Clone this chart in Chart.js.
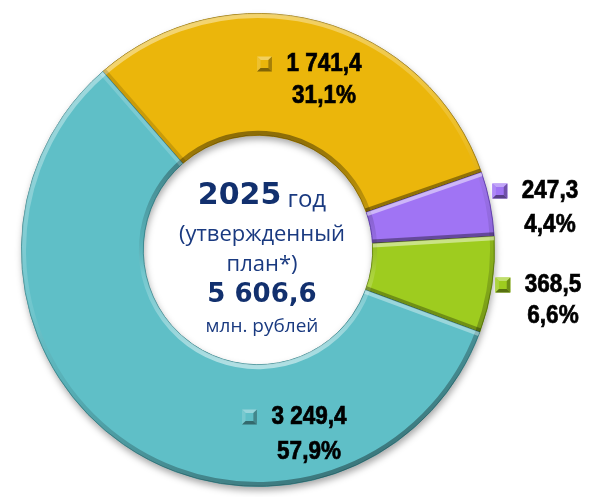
<!DOCTYPE html>
<html><head><meta charset="utf-8">
<script src="https://cdn.jsdelivr.net/npm/chart.js@4.4.1/dist/chart.umd.min.js"></script>
<style>html,body{margin:0;padding:0;background:#fff;}#wrap{width:595px;height:497px;position:relative;}</style>
</head><body><div id="wrap"><canvas id="c" width="595" height="497"></canvas></div>
<script>
const categories = ['Сегмент 1', 'Сегмент 2', 'Сегмент 3', 'Сегмент 4'];
const values = [1741.4, 247.3, 368.5, 3249.4];
const valueLabels = ['1 741,4', '247,3', '368,5', '3 249,4'];
const percentLabels = ['31,1%', '4,4%', '6,6%', '57,9%'];
const colors = ['#EBB60B', '#A074F4', '#9ECC1F', '#5FBFC7'];
const edgeColors = ['#A47E05', '#6844B8', '#6C8E10', '#3F8F96'];
const centerYear = '2025';
const centerYearWord = ' год';
const centerLine2 = '(утвержденный';
const centerLine3 = 'план*)';
const centerTotal = '5 606,6';
const centerUnit = 'млн. рублей';

// label placement (offset from chart centre)
const labelPlacement = [
  {dx: 66, dy: -186, gap: 32},
  {dx: 292, dy: -59, gap: 34},
  {dx: 295, dy: 35, gap: 31},
  {dx: 51, dy: 167, gap: 35}
];

const LABEL_FONT = "bold 25px 'Liberation Sans', Arial, sans-serif";
const LABEL_SCALE = 0.9;

function lighten(hex, f) {
  const n = parseInt(hex.slice(1), 16);
  let r = (n >> 16) & 255, g = (n >> 8) & 255, b = n & 255;
  if (f >= 0) { r += (255 - r) * f; g += (255 - g) * f; b += (255 - b) * f; }
  else { r *= (1 + f); g *= (1 + f); b *= (1 + f); }
  return `rgb(${Math.round(r)},${Math.round(g)},${Math.round(b)})`;
}

function drawMarker(ctx, cx, cy, s, col) {
  const h = s / 2, i = s * 0.24;
  const x0 = cx - h, y0 = cy - h, x1 = cx + h, y1 = cy + h;
  ctx.save();
  ctx.fillStyle = col; ctx.fillRect(x0, y0, s, s);
  const tri = (pts, c) => { ctx.beginPath(); ctx.moveTo(pts[0], pts[1]); for (let k = 2; k < pts.length; k += 2) ctx.lineTo(pts[k], pts[k + 1]); ctx.closePath(); ctx.fillStyle = c; ctx.fill(); };
  tri([x0, y0, x1, y0, x1 - i, y0 + i, x0 + i, y0 + i], lighten(col, 0.35));
  tri([x0, y0, x0 + i, y0 + i, x0 + i, y1 - i, x0, y1], lighten(col, 0.15));
  tri([x1, y0, x1, y1, x1 - i, y1 - i, x1 - i, y0 + i], lighten(col, -0.3));
  tri([x0, y1, x0 + i, y1 - i, x1 - i, y1 - i, x1, y1], lighten(col, -0.45));
  ctx.restore();
}

function scaledText(ctx, txt, x, y) {
  ctx.save();
  ctx.translate(x, y);
  ctx.scale(LABEL_SCALE, 1);
  ctx.lineWidth = 0.7;
  ctx.strokeStyle = '#000';
  ctx.strokeText(txt, 0, 0);
  ctx.fillText(txt, 0, 0);
  ctx.restore();
}

const ringEffects = {
  id: 'ringEffects',
  beforeDatasetsDraw(chart) {
    const a = chart.getDatasetMeta(0).data[0];
    if (!a) return;
    const ctx = chart.ctx;
    ctx.save();
    ctx.shadowColor = 'rgba(0,0,0,0.35)'; ctx.shadowBlur = 7; ctx.shadowOffsetX = 1; ctx.shadowOffsetY = 4;
    ctx.beginPath();
    ctx.arc(a.x, a.y, a.outerRadius, 0, Math.PI * 2);
    ctx.arc(a.x, a.y, a.innerRadius, Math.PI * 2, 0, true);
    ctx.fillStyle = '#888'; ctx.fill('evenodd');
    ctx.restore();
  },
  afterDatasetsDraw(chart) {
    const ctx = chart.ctx;
    const meta = chart.getDatasetMeta(0);
    meta.data.forEach((arc) => {
      const p = arc.getProps(['x', 'y', 'startAngle', 'endAngle', 'innerRadius', 'outerRadius'], true);
      const {x, y, startAngle, endAngle, innerRadius, outerRadius} = p;
      ctx.save();
      ctx.beginPath();
      ctx.arc(x, y, outerRadius, startAngle, endAngle);
      ctx.arc(x, y, innerRadius, endAngle, startAngle, true);
      ctx.closePath();
      ctx.clip();
      let g = ctx.createLinearGradient(x - outerRadius * 0.4, y - outerRadius, x + outerRadius * 0.4, y + outerRadius);
      g.addColorStop(0, 'rgba(255,255,255,0.45)');
      g.addColorStop(0.45, 'rgba(255,255,255,0.1)');
      g.addColorStop(0.6, 'rgba(0,0,0,0.08)');
      g.addColorStop(1, 'rgba(0,0,0,0.4)');
      ctx.strokeStyle = g; ctx.lineWidth = 9;
      ctx.beginPath(); ctx.arc(x, y, outerRadius, startAngle, endAngle); ctx.stroke();
      g = ctx.createLinearGradient(x, y - innerRadius, x, y + innerRadius);
      g.addColorStop(0, 'rgba(0,0,0,0.4)');
      g.addColorStop(0.45, 'rgba(0,0,0,0.08)');
      g.addColorStop(0.6, 'rgba(255,255,255,0.12)');
      g.addColorStop(1, 'rgba(255,255,255,0.5)');
      ctx.strokeStyle = g; ctx.lineWidth = 9;
      ctx.beginPath(); ctx.arc(x, y, innerRadius, startAngle, endAngle); ctx.stroke();
      [[startAngle, -1], [endAngle, 1]].forEach(([ang, side]) => {
        const na = ang + side * Math.PI / 2;
        const ny = Math.sin(na), nx = Math.cos(na);
        const lit = -(ny * 0.9 + nx * 0.3);
        ctx.strokeStyle = lit > 0 ? `rgba(255,255,255,${0.5 * lit})` : `rgba(0,0,0,${-0.4 * lit})`;
        ctx.lineWidth = 8;
        ctx.beginPath();
        ctx.moveTo(x + Math.cos(ang) * innerRadius, y + Math.sin(ang) * innerRadius);
        ctx.lineTo(x + Math.cos(ang) * outerRadius, y + Math.sin(ang) * outerRadius);
        ctx.stroke();
      });
      ctx.restore();
    });
  },
  afterDraw(chart) {
    const ctx = chart.ctx;
    const meta = chart.getDatasetMeta(0);
    const a = meta.data[0];
    const cx = a.x, cy = a.y;
    ctx.save();
    ctx.fillStyle = '#000';
    ctx.textBaseline = 'middle';
    ctx.textAlign = 'center';
    ctx.font = LABEL_FONT;
    meta.data.forEach((arc, i) => {
      const pl = labelPlacement[i];
      const tx = cx + pl.dx, ty = cy + pl.dy;
      const w1 = ctx.measureText(valueLabels[i]).width * LABEL_SCALE;
      scaledText(ctx, valueLabels[i], tx, ty);
      scaledText(ctx, percentLabels[i], tx, ty + pl.gap);
      drawMarker(ctx, tx - w1 / 2 - 22, ty, 15, colors[i]);
    });
    const ox = cx + 4;
    const boldF = (s) => `bold ${s}px 'DejaVu Sans', sans-serif`;
    const regF = (s) => `${s}px 'Open Sans', sans-serif`;
    ctx.textAlign = 'left';
    ctx.font = boldF(30);
    const wy = ctx.measureText(centerYear).width;
    ctx.font = regF(24);
    const wg = ctx.measureText(centerYearWord).width;
    const sx = ox - (wy + wg) / 2;
    ctx.fillStyle = '#12306E';
    ctx.font = boldF(30);
    ctx.fillText(centerYear, sx, cy - 54);
    ctx.fillStyle = '#1A3A80';
    ctx.font = regF(24);
    ctx.fillText(centerYearWord, sx + wy, cy - 50);
    ctx.textAlign = 'center';
    ctx.font = regF(22);
    ctx.fillText(centerLine2, ox, cy - 15);
    ctx.fillText(centerLine3, ox, cy + 15);
    ctx.fillStyle = '#12306E';
    ctx.font = boldF(26);
    ctx.fillText(centerTotal, ox, cy + 45);
    ctx.fillStyle = '#1A3A80';
    ctx.font = regF(19);
    ctx.fillText(centerUnit, ox, cy + 77);
    ctx.restore();
  }
};

new Chart(document.getElementById('c'), {
  type: 'doughnut',
  data: {
    labels: categories,
    datasets: [{
      data: values,
      backgroundColor: colors,
      borderColor: edgeColors,
      borderWidth: 1,
      borderJoinStyle: 'miter'
    }]
  },
  options: {
    responsive: false,
    animation: false,
    devicePixelRatio: 1,
    rotation: -41,
    cutout: '48.5%',
    layout: {padding: {left: 21, right: 100, top: 13, bottom: 10}},
    plugins: {legend: {display: false}, tooltip: {enabled: false}}
  },
  plugins: [ringEffects]
});
</script></body></html>
